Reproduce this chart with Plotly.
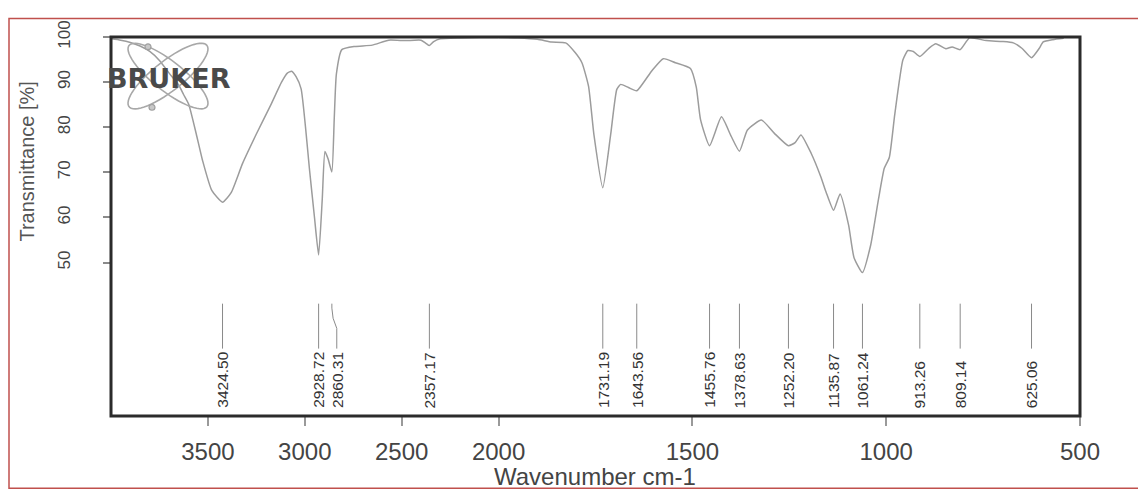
import numpy as np
import plotly.graph_objects as go

# ---------------- data ----------------
wavenumber = [4000, 3950, 3900, 3850, 3800, 3750, 3700, 3650, 3625, 3599, 3560, 3528,
              3480, 3424.5, 3380, 3321, 3250, 3176, 3120, 3090, 3068, 3045, 3019, 2975, 2950,
              2928.72, 2910, 2896, 2880, 2860.31, 2848, 2837, 2809, 2741, 2652, 2567,
              2482, 2400, 2375, 2357.17, 2335, 2300, 2200, 2100, 2000,
              1950, 1900, 1863, 1827, 1802, 1785, 1768, 1754, 1731.19, 1711, 1695,
              1685, 1665, 1643.56, 1604, 1575, 1544, 1505, 1490, 1479, 1455.76, 1425,
              1400, 1378.63, 1358, 1322, 1289, 1252.2, 1235, 1220, 1194, 1169, 1155,
              1135.87, 1119, 1097, 1083, 1061.24, 1040, 1020, 1005, 992, 978, 957, 944,
              930, 913.26, 890, 872, 846, 830, 809.14, 785, 742, 700, 672, 650, 625.06,
              605, 595, 570, 542]
transmittance = [99.6, 99.3, 98.8, 98.0, 96.8, 94.8, 92.0, 89.3, 87.2, 85.1, 78.5, 72.7,
                 66.0, 63.4, 65.5, 72.0, 78.5, 84.9, 90.0, 92.0, 92.4, 91.2, 88.5, 70.3, 60.0,
                 51.7, 64.0, 74.6, 73.0, 70.1, 82.0, 91.8, 97.2, 97.9, 98.2, 99.3,
                 99.2, 99.3, 98.6, 98.1, 99.0, 99.6, 99.8, 99.9, 99.9,
                 99.8, 99.5, 98.9, 98.7, 96.5, 94.3, 89.1, 78.3, 66.6, 78.3, 88.4,
                 89.5, 88.8, 88.1, 92.6, 95.2, 94.3, 93.0, 88.9, 81.7, 75.9, 82.3,
                 78.0, 74.7, 79.4, 81.6, 78.7, 75.9, 76.6, 78.3, 74.3, 69.1, 65.6,
                 61.6, 65.2, 58.3, 51.1, 47.8, 53.9, 64.0, 70.9, 73.3, 82.8, 94.9, 97.0,
                 96.8, 95.7, 97.5, 98.5, 97.4, 97.8, 97.2, 99.8, 99.2, 99.0, 98.7, 97.5, 95.4,
                 97.5, 98.9, 99.4, 99.7]

peak_wavenumbers = [3424.50, 2928.72, 2860.31, 2357.17, 1731.19, 1643.56, 1455.76,
                    1378.63, 1252.20, 1135.87, 1061.24, 913.26, 809.14, 625.06]
peak_labels = ["%.2f" % p for p in peak_wavenumbers]

x_ticks_high = [3500, 3000, 2500]
x_ticks_low = [2000, 1500, 1000, 500]
y_ticks = [50, 60, 70, 80, 90, 100]

# ---------------- layout geometry ----------------
OFF = 8                      # page body margin of the html page
PAGE_W, PAGE_H = 1146, 492
W, H = PAGE_W - OFF, PAGE_H - OFF
PL, PT = 111, 28             # plot area left/top in page pixels
L, T = PL - OFF, PT - OFF
R, B = 66, 76
PW, PH = W - L - R, H - T - B
BREAK = 2000
SPLIT = 0.4  # share of plot width for 4000-2000 cm-1

def pp(px, py):
    """page pixel -> paper coordinates"""
    return (px - PL) / PW, (PT + PH - py) / PH

SANS = "Liberation Sans, Arial, sans-serif"

fig = go.Figure()

hi = [(w, t) for w, t in zip(wavenumber, transmittance) if w >= BREAK]
lo = [(w, t) for w, t in zip(wavenumber, transmittance) if w <= BREAK]
line_style = dict(color="#9c9c9c", width=1.5, shape="spline", smoothing=0.5)
fig.add_trace(go.Scatter(x=[p[0] for p in hi], y=[p[1] for p in hi], mode="lines",
                         line=line_style, xaxis="x", yaxis="y", showlegend=False,
                         hoverinfo="skip"))
fig.add_trace(go.Scatter(x=[p[0] for p in lo], y=[p[1] for p in lo], mode="lines",
                         line=line_style, xaxis="x2", yaxis="y", showlegend=False,
                         hoverinfo="skip"))

xcommon = dict(ticks="outside", ticklen=9, tickwidth=1.5, tickcolor="#9a9a9a",
               showgrid=False, zeroline=False, showline=False, anchor="y",
               tickfont=dict(family=SANS, size=24, color="#444"),
               ticklabelstandoff=5)

shapes = []
annotations = []

# peak marker lines and labels
label_shift = {2860.31: 2835}
line_top, line_bot = pp(0, 301)[1], pp(0, 347)[1]
label_bottom = pp(0, 410)[1]
for p, lab in zip(peak_wavenumbers, peak_labels):
    xr = "x" if p > BREAK else "x2"
    lx = label_shift.get(p, p)
    if lx == p:
        shapes.append(dict(type="line", xref=xr, yref="paper", x0=p, x1=p,
                           y0=line_bot, y1=line_top,
                           line=dict(color="#8a8a8a", width=1)))
    else:
        ymid1 = line_top - 0.1 * (line_top - line_bot)
        ymid2 = line_top - 0.55 * (line_top - line_bot)
        shapes.append(dict(type="path", xref=xr, yref="paper",
                           path=f"M {p},{line_top} L {p},{ymid1} Q {p},{(ymid1+ymid2)/2} {lx},{ymid2} L {lx},{line_bot}",
                           line=dict(color="#8a8a8a", width=1)))
    annotations.append(dict(x=lx, xref=xr, y=label_bottom, yref="paper", text=lab,
                            textangle=-90, showarrow=False, xanchor="center",
                            yanchor="bottom",
                            font=dict(family=SANS, size=15.5, color="#333")))

# frame
shapes.append(dict(type="rect", xref="paper", yref="paper", x0=0, x1=1, y0=0, y1=1,
                   line=dict(color="#2b2b2b", width=3)))

# outer red border of the scan
bx0, by0 = pp(9, 490)
bx1, by1 = pp(1141, 9)
shapes.append(dict(type="rect", xref="paper", yref="paper", x0=bx0, x1=bx1, y0=by0,
                   y1=by1, line=dict(color="#c0504d", width=1.5), layer="below"))

# Bruker atom logo
cx, cy, a, b = 168, 68, 50, 15
tt = np.linspace(0, 2 * np.pi, 60)
for ang in (np.deg2rad(39), np.deg2rad(-39)):
    xs = cx + a * np.cos(tt) * np.cos(ang) - b * np.sin(tt) * np.sin(ang)
    ys = cy + a * np.cos(tt) * np.sin(ang) + b * np.sin(tt) * np.cos(ang)
    pts = [pp(x, y) for x, y in zip(xs, ys)]
    path = "M " + " L ".join(f"{u:.5f},{v:.5f}" for u, v in pts) + " Z"
    shapes.append(dict(type="path", xref="paper", yref="paper", path=path,
                       line=dict(color="#a8a8a8", width=1.6)))
for dx, dy in ((148, 38), (152, 100)):
    u0, v0 = pp(dx - 3, dy + 3)
    u1, v1 = pp(dx + 3, dy - 3)
    shapes.append(dict(type="circle", xref="paper", yref="paper", x0=u0, x1=u1,
                       y0=v0, y1=v1, line=dict(color="#a0a0a0", width=1.2),
                       fillcolor="#c8c8c8"))
bx, by = pp(169, 70)
annotations.append(dict(x=bx, y=by, xref="paper", yref="paper", text="<b>BRUKER</b>",
                        showarrow=False, xanchor="center", yanchor="middle",
                        font=dict(family="DejaVu Sans, Arial Black, sans-serif",
                                  size=27, color="#4a4a4a")))

# axis titles
tx, ty = pp(27.5, 156)
annotations.append(dict(x=tx, y=ty, xref="paper", yref="paper",
                        text="Transmittance [%]", textangle=-90, showarrow=False,
                        xanchor="center", yanchor="middle",
                        font=dict(family=SANS, size=20, color="#555")))
wx, wy = pp(595, 478)
annotations.append(dict(x=wx, y=wy, xref="paper", yref="paper",
                        text="Wavenumber cm-1", showarrow=False,
                        xanchor="center", yanchor="middle",
                        font=dict(family=SANS, size=24, color="#444")))

fig.update_layout(
    width=W, height=H,
    margin=dict(l=L, r=R, t=T, b=B, pad=0),
    paper_bgcolor="white", plot_bgcolor="white",
    xaxis=dict(domain=[0, SPLIT], range=[4000, BREAK], tickvals=x_ticks_high, **xcommon),
    xaxis2=dict(domain=[SPLIT, 1], range=[BREAK, 500], tickvals=x_ticks_low, **xcommon),
    yaxis=dict(range=[16, 100], tickvals=y_ticks, ticks="outside", ticklen=7,
               tickwidth=1.5, tickcolor="#8a8a8a", tickangle=-90, anchor="x",
               showgrid=False, zeroline=False, showline=False,
               tickfont=dict(family=SANS, size=17, color="#444"),
               ticklabelstandoff=26),
    shapes=shapes,
    annotations=annotations,
    showlegend=False,
)

fig.write_html("out.html")
